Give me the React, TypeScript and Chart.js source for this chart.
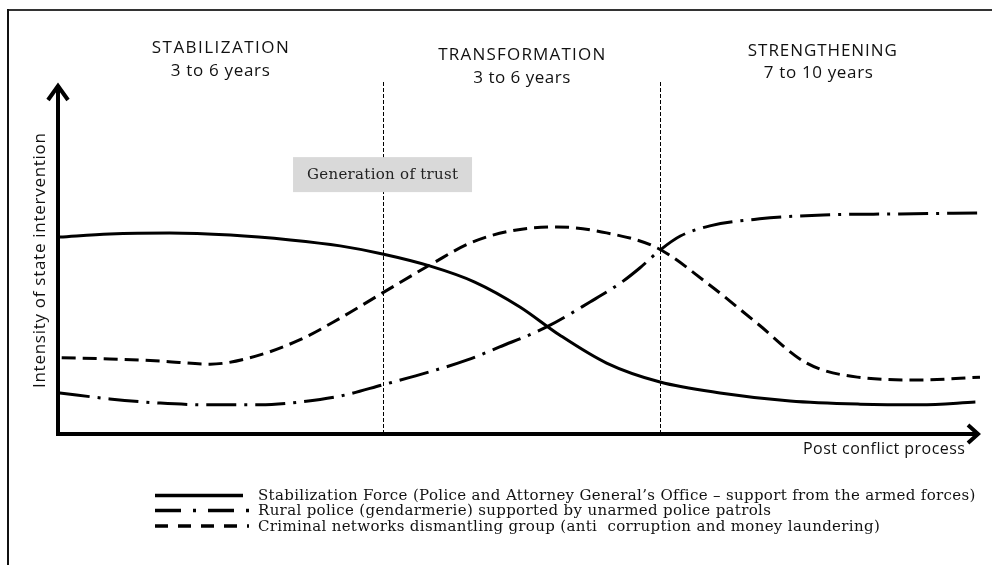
import React, { useEffect, useRef } from "react";
import { Chart, registerables } from "chart.js";

Chart.register(...registerables);

// ---- data (x: position along the post-conflict process 0..100, y: intensity 0..100)
const stabilizationX = [0.2, 5.6, 12.1, 18.7, 25.2, 30.6, 35.2, 40.3, 45.2, 50.1, 54.4, 59.5, 65.3, 71.8, 79.4, 87.0, 93.5, 99.5];
const stabilizationY = [56.1, 57.0, 57.3, 56.7, 55.3, 53.6, 51.3, 47.9, 43.3, 36.2, 28.2, 20.2, 14.8, 11.7, 9.4, 8.5, 8.3, 9.1];

const ruralX = [0.2, 5.6, 11.1, 16.5, 21.9, 26.2, 30.6, 35.2, 40.3, 44.4, 47.9, 53.0, 57.7, 61.0, 63.1, 65.3, 67.5, 70.7, 76.1, 83.0, 91.3, 100];
const ruralY = [11.7, 10.0, 8.8, 8.3, 8.3, 9.1, 10.8, 14.0, 17.7, 21.1, 24.8, 30.5, 37.6, 43.0, 47.3, 52.4, 56.4, 59.3, 61.3, 62.4, 62.7, 63.0];

const criminalX = [0.4, 5.6, 11.1, 16.5, 20.8, 26.2, 30.6, 35.2, 40.7, 44.7, 49.0, 54.1, 59.5, 65.0, 70.4, 75.8, 81.2, 86.7, 93.5, 100];
const criminalY = [21.7, 21.4, 20.8, 19.9, 21.7, 26.8, 33.0, 40.2, 48.7, 54.4, 57.8, 59.0, 57.3, 53.0, 43.0, 31.6, 20.2, 16.2, 15.4, 16.2];

const seriesLabels = [
  "Stabilization Force (Police and Attorney General\u2019s Office \u2013 support from the armed forces)",
  "Rural police (gendarmerie) supported by unarmed police patrols",
  "Criminal networks dismantling group (anti  corruption and money laundering)",
];

const phaseNames = ["STABILIZATION", "TRANSFORMATION", "STRENGTHENING"];
const phaseDurations = ["3 to 6 years", "3 to 6 years", "7 to 10 years"];
const phaseCenters = [17.6, 50.3, 82.9];
const phaseBoundaries = [35.2, 65.3];

const trustLabel = "Generation of trust";
const trustLevel = 73.9;
const yAxisTitle = "Intensity of state intervention";
const xAxisTitle = "Post conflict process";

const curveDashes = [[], [30, 8, 3, 8], [14, 7]];
const legendDashes = [[], [26, 12, 3, 12], [13, 10]];

const SANS = "'Open Sans', 'DejaVu Sans', sans-serif";
const SERIF = "'DejaVu Serif', 'Liberation Serif', serif";

function drawFit(ctx: CanvasRenderingContext2D, text: string, cx: number, cy: number, width: number, font: string) {
  ctx.font = font;
  (ctx as any).letterSpacing = "0px";
  const w = ctx.measureText(text).width;
  const ls = (width - w) / Math.max(1, text.length - 1);
  (ctx as any).letterSpacing = ls + "px";
  ctx.textAlign = "left";
  ctx.textBaseline = "middle";
  ctx.fillText(text, cx - width / 2, cy);
  (ctx as any).letterSpacing = "0px";
}

const decorPlugin = {
  id: "decor",
  beforeDatasetsDraw(chart: any) {
    const ctx: CanvasRenderingContext2D = chart.ctx;
    const { x } = chart.scales;
    const area = chart.chartArea;
    ctx.save();
    ctx.fillStyle = "#333";
    ctx.fillRect(7, 9, 985, 2);
    ctx.fillStyle = "#111";
    ctx.fillRect(7, 9, 2, 556);
    ctx.strokeStyle = "#000";
    ctx.lineWidth = 1;
    ctx.setLineDash([4, 2]);
    phaseBoundaries.forEach((b) => {
      const px = Math.round(x.getPixelForValue(b)) + 0.5;
      ctx.beginPath();
      ctx.moveTo(px, area.top - 1);
      ctx.lineTo(px, area.bottom);
      ctx.stroke();
    });
    ctx.restore();
  },
  afterDatasetsDraw(chart: any) {
    const ctx: CanvasRenderingContext2D = chart.ctx;
    const { x, y } = chart.scales;
    const area = chart.chartArea;
    ctx.save();
    ctx.setLineDash([]);
    ctx.strokeStyle = "#000";
    ctx.lineWidth = 4;
    ctx.lineCap = "butt";
    ctx.beginPath();
    ctx.moveTo(area.left, area.bottom + 2);
    ctx.lineTo(area.left, area.top + 2);
    ctx.moveTo(area.left - 2, area.bottom);
    ctx.lineTo(area.right - 2, area.bottom);
    ctx.stroke();
    ctx.lineJoin = "miter";
    ctx.beginPath();
    ctx.moveTo(area.left - 10, area.top + 17);
    ctx.lineTo(area.left, area.top + 3);
    ctx.lineTo(area.left + 10, area.top + 17);
    ctx.moveTo(area.right - 12, area.bottom - 9);
    ctx.lineTo(area.right - 2, area.bottom);
    ctx.lineTo(area.right - 12, area.bottom + 9);
    ctx.stroke();

    const bx = x.getPixelForValue(phaseBoundaries[0]);
    const by = y.getPixelForValue(trustLevel);
    ctx.fillStyle = "#d9d9d9";
    ctx.fillRect(bx - 89.5, by - 17.5, 179, 35);
    ctx.fillStyle = "#222";
    drawFit(ctx, trustLabel, bx, by, 151, "15px " + SERIF);

    ctx.fillStyle = "#111";
    const nameY = [48, 55, 51];
    const durY = [71, 78, 73];
    const nameW = [137, 167, 149];
    const durW = [99, 97, 109];
    const durShift = [0, 0, -4];
    phaseNames.forEach((n, i) => {
      const cx = x.getPixelForValue(phaseCenters[i]);
      drawFit(ctx, n, cx, nameY[i], nameW[i], "17px " + SANS);
      drawFit(ctx, phaseDurations[i], cx + durShift[i], durY[i], durW[i], "17px " + SANS);
    });

    ctx.save();
    ctx.translate(40, 260.5);
    ctx.rotate(-Math.PI / 2);
    drawFit(ctx, yAxisTitle, 0, 0, 255, "17px " + SANS);
    ctx.restore();
    drawFit(ctx, xAxisTitle, 884, 449, 162, "16px " + SANS);

    const rows = [495.5, 510.5, 526];
    ctx.font = "15px " + SERIF;
    (ctx as any).letterSpacing = "0px";
    const w0 = ctx.measureText(chart.data.datasets[0].label).width;
    const ls = (717 - w0) / (chart.data.datasets[0].label.length - 1);
    chart.data.datasets.forEach((ds: any, i: number) => {
      ctx.strokeStyle = "#000";
      ctx.lineWidth = 3.5;
      ctx.setLineDash(legendDashes[i]);
      ctx.beginPath();
      ctx.moveTo(155, rows[i]);
      ctx.lineTo(i === 0 ? 243 : 249, rows[i]);
      ctx.stroke();
      ctx.setLineDash([]);
      ctx.fillStyle = "#111";
      ctx.font = "15px " + SERIF;
      (ctx as any).letterSpacing = ls + "px";
      ctx.textAlign = "left";
      ctx.textBaseline = "middle";
      ctx.fillText(ds.label, 258, rows[i] + 1);
    });
    (ctx as any).letterSpacing = "0px";
    ctx.restore();
  },
};

function toPoints(xs: number[], ys: number[]) {
  return xs.map((v, i) => ({ x: v, y: ys[i] }));
}

export default function App() {
  const ref = useRef<HTMLCanvasElement>(null);
  useEffect(() => {
    const make = (label: string, xs: number[], ys: number[], dash: number[]) => ({
      label,
      data: toPoints(xs, ys),
      borderColor: "#000",
      borderWidth: 3,
      borderDash: dash,
      cubicInterpolationMode: "monotone" as const,
      pointRadius: 0,
      fill: false,
      clip: false as any,
    });
    const chart = new Chart(ref.current!, {
      type: "line",
      data: {
        datasets: [
          make(seriesLabels[0], stabilizationX, stabilizationY, curveDashes[0]),
          make(seriesLabels[1], ruralX, ruralY, curveDashes[1]),
          make(seriesLabels[2], criminalX, criminalY, curveDashes[2]),
        ],
      },
      options: {
        responsive: false,
        animation: false,
        layout: { padding: { left: 58, right: 12, top: 83, bottom: 131 } },
        scales: {
          x: { type: "linear", min: 0, max: 100, display: false },
          y: { type: "linear", min: 0, max: 100, display: false },
        },
        plugins: { legend: { display: false }, tooltip: { enabled: false } },
        elements: { point: { radius: 0 } },
      },
      plugins: [decorPlugin],
    });
    return () => chart.destroy();
  }, []);
  return (
    <div style={{ position: "fixed", left: 0, top: 0, width: 992, height: 565, background: "#fff" }}>
      <canvas ref={ref} width={992} height={565} style={{ width: 992, height: 565, display: "block" }} />
    </div>
  );
}
